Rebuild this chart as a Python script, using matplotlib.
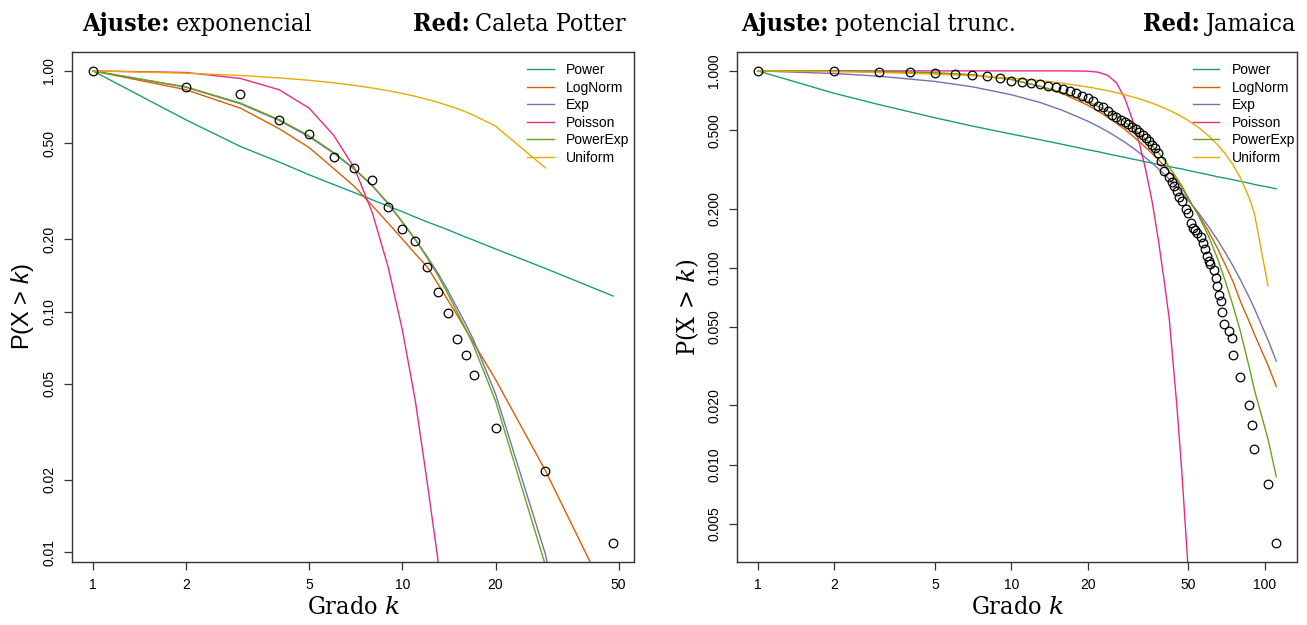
import numpy as np
import matplotlib
matplotlib.use("Agg")
import matplotlib.pyplot as plt

nan = float("nan")

# ---------------- Left panel: Caleta Potter (fit: exponencial) ----------------
cp_k = [1, 2, 3, 4, 5, 6, 7, 8, 9, 10, 11, 12, 13, 14, 15, 16, 17, 20, 29, 48]
cp_p = [1.0, 0.855, 0.803, 0.626, 0.549, 0.438, 0.396, 0.352, 0.273, 0.220,
        0.197, 0.153, 0.121, 0.0988, 0.0770, 0.0657, 0.0546, 0.0328, 0.0218, 0.0109]
cp_power = [1.0, 0.626, 0.485, 0.418, 0.370, 0.337, 0.312, 0.291, 0.274, 0.260,
            0.247, 0.236, 0.227, 0.219, 0.211, 0.204, 0.198, 0.182, 0.151, 0.116]
cp_lognorm = [1.0, 0.835, 0.70, 0.575, 0.48, 0.393, 0.331, 0.275, 0.233, 0.200,
              0.174, 0.154, 0.131, 0.112, 0.097, 0.0843, 0.074, 0.0522, 0.0218, 0.0058]
cp_exp = [1.0, 0.855, 0.73, 0.622, 0.532, 0.455, 0.39, 0.333, 0.28, 0.235,
          0.2, 0.17, 0.145, 0.123, 0.104, 0.089, 0.076, 0.0455, 0.0098, 0.0004]
cp_poisson = [1.0, 0.985, 0.93, 0.835, 0.70, 0.54, 0.395, 0.257, 0.153, 0.084,
              0.043, 0.020, 0.0095, 0.0037, 0.0013, 4e-4, 1.2e-4, 1e-6, 1e-14, 1e-30]
cp_powerexp = [1.0, 0.858, 0.735, 0.627, 0.537, 0.458, 0.392, 0.334, 0.282, 0.236,
               0.199, 0.168, 0.142, 0.119, 0.100, 0.085, 0.072, 0.0425, 0.0088, 1e-5]
cp_uniform = [1.0, 0.978, 0.957, 0.935, 0.914, 0.892, 0.870, 0.849, 0.827, 0.806,
              0.784, 0.762, 0.741, 0.719, 0.698, 0.676, 0.654, 0.590, 0.395, nan]

# ---------------- Right panel: Jamaica (fit: potencial trunc.) ----------------
ja_k = [1, 2, 3, 4, 5, 6, 7, 8, 9, 10, 11, 12, 13, 14, 15, 16, 17, 18, 19, 20,
        21, 22, 23, 24, 25, 26, 27, 28, 29, 30, 31, 32, 33, 34, 35, 36, 37, 38, 39, 40,
        42, 43, 44, 45, 46, 47, 49, 50, 51, 52, 53, 54, 56, 57, 58, 59, 60, 61, 63, 64,
        65, 66, 67, 68, 69, 72, 74, 75, 80, 87, 89, 91, 103, 111]
ja_p = [1.0, 0.996, 0.99, 0.985, 0.977, 0.962, 0.958, 0.947, 0.918, 0.89,
        0.88, 0.87, 0.857, 0.839, 0.825, 0.808, 0.79, 0.77, 0.748, 0.725,
        0.70, 0.667, 0.652, 0.622, 0.598, 0.58, 0.565, 0.55, 0.54, 0.52,
        0.505, 0.49, 0.474, 0.455, 0.44, 0.42, 0.405, 0.385, 0.35, 0.311,
        0.288, 0.273, 0.259, 0.245, 0.228, 0.218, 0.20, 0.19, 0.169, 0.16,
        0.155, 0.15, 0.143, 0.134, 0.124, 0.1145, 0.108, 0.105, 0.097, 0.089,
        0.081, 0.073, 0.068, 0.060, 0.052, 0.048, 0.044, 0.036, 0.028, 0.020,
        0.016, 0.012, 0.008, 0.004]

ja_kfit = [1, 2, 3, 5, 7, 10, 13, 16, 20, 22, 24, 26, 28, 30, 32, 34, 36, 38, 40, 42,
           45, 47, 50, 55, 60, 65, 70, 75, 80, 87, 91, 103, 111]
ja_power = [1.0, 0.77, 0.675, 0.578, 0.525, 0.478, 0.447, 0.423, 0.398, 0.389,
            0.379, 0.371, 0.364, 0.357, 0.351, 0.345, 0.340, 0.335, 0.331, 0.327,
            0.321, 0.318, 0.312, 0.304, 0.297, 0.290, 0.285, 0.280, 0.275, 0.269,
            0.265, 0.257, 0.252]
ja_lognorm = [1.0, 0.997, 0.992, 0.977, 0.955, 0.905, 0.835, 0.765, 0.67, 0.625,
              0.582, 0.542, 0.505, 0.47, 0.437, 0.407, 0.38, 0.355, 0.33, 0.308,
              0.278, 0.258, 0.222, 0.185, 0.153, 0.126, 0.103, 0.085, 0.068, 0.053,
              0.046, 0.032, 0.025]
ja_exp = [1.0, 0.970, 0.940, 0.884, 0.831, 0.757, 0.691, 0.629, 0.556, 0.523,
          0.492, 0.462, 0.435, 0.409, 0.384, 0.361, 0.340, 0.319, 0.300, 0.282,
          0.257, 0.242, 0.220, 0.189, 0.162, 0.139, 0.119, 0.102, 0.0874, 0.0704,
          0.0622, 0.0430, 0.0336]
ja_poisson = [1.0, 1.0, 1.0, 1.0, 1.0, 1.0, 1.0, 1.0, 0.997, 0.985,
              0.95, 0.87, 0.73, 0.57, 0.43, 0.31, 0.215, 0.14, 0.088, 0.055,
              0.02, 0.0095, 0.0028, 3e-4, 2e-5, 1e-6, 3e-8, 5e-10, 6e-12, 1e-14,
              5e-16, 1e-20, 1e-23]
ja_powerexp = [1.0, 0.997, 0.992, 0.977, 0.955, 0.905, 0.835, 0.775, 0.70, 0.66,
               0.625, 0.59, 0.55, 0.515, 0.48, 0.45, 0.415, 0.385, 0.355, 0.325,
               0.285, 0.262, 0.226, 0.182, 0.145, 0.112, 0.085, 0.064, 0.048, 0.031,
               0.024, 0.0135, 0.0087]
ja_uniform = [1.0, 0.991, 0.982, 0.964, 0.946, 0.919, 0.892, 0.865, 0.829, 0.811,
              0.793, 0.775, 0.757, 0.739, 0.721, 0.703, 0.685, 0.667, 0.649, 0.631,
              0.604, 0.586, 0.559, 0.514, 0.468, 0.423, 0.378, 0.333, 0.288, 0.225,
              0.189, 0.081, nan]

model_names = ["Power", "LogNorm", "Exp", "Poisson", "PowerExp", "Uniform"]
model_colors = ["#1B9E77", "#D95F02", "#7570B3", "#E7298A", "#66A61E", "#E6AB02"]

left_ticks_x = [1, 2, 5, 10, 20, 50]
left_ticks_y = [1.0, 0.5, 0.2, 0.1, 0.05, 0.02, 0.01]
left_ticklabels_y = ["1.00", "0.50", "0.20", "0.10", "0.05", "0.02", "0.01"]
right_ticks_x = [1, 2, 5, 10, 20, 50, 100]
right_ticks_y = [1.0, 0.5, 0.2, 0.1, 0.05, 0.02, 0.01, 0.005]
right_ticklabels_y = ["1.000", "0.500", "0.200", "0.100", "0.050", "0.020", "0.010", "0.005"]

# ---------------- styling ----------------
W, H = 1307, 625
SANS = "Liberation Sans"
SERIF = "DejaVu Serif"
plt.rcParams["mathtext.fontset"] = "custom"
plt.rcParams["mathtext.sf"] = "Liberation Sans:italic"
plt.rcParams["mathtext.it"] = "DejaVu Serif:italic"

fig = plt.figure(figsize=(W / 100, H / 100), dpi=100)


def px_axes(x0, x1, y0, y1):
    return fig.add_axes([x0 / W, 1 - y1 / H, (x1 - x0) / W, (y1 - y0) / H])


def loglim(vals):
    v = np.asarray(vals, float)
    lo, hi = np.log10(v.min()), np.log10(v.max())
    d = 0.04 * (hi - lo)
    return 10 ** (lo - d), 10 ** (hi + d)


def draw_panel(ax, k, p, kfit, fits, xt, yt, ytl, ylabel, ylabel_kw, leg_x):
    ax.set_xscale("log")
    ax.set_yscale("log")
    for name, col, vals in zip(model_names, model_colors, fits):
        ax.plot(kfit, vals, color=col, lw=1.0, label=name, zorder=2)
    ax.plot(k, p, linestyle="none", marker="o", markersize=6.2, markerfacecolor="none",
            markeredgecolor="black", markeredgewidth=0.9, zorder=3)
    ax.set_xlim(*loglim(k))
    ax.set_ylim(*loglim(p))
    ax.minorticks_off()
    ax.set_xticks(xt)
    ax.set_xticklabels([str(t) for t in xt], fontfamily=SANS, fontsize=10)
    ax.set_yticks(yt)
    ax.set_yticklabels(ytl, fontfamily=SANS, fontsize=10, rotation=90, va="center")
    ax.tick_params(axis="both", which="both", direction="out", length=5.5, width=0.9,
                   color="#333333")
    ax.tick_params(axis="x", pad=6)
    ax.tick_params(axis="y", pad=6)
    for s in ax.spines.values():
        s.set_linewidth(1.0)
        s.set_color("#333333")
    ax.set_xlabel("Grado $k$", fontfamily=SERIF, fontstretch="condensed", fontsize=18,
                  labelpad=3)
    ax.set_ylabel(ylabel, **ylabel_kw)
    leg = ax.legend(loc="upper left", bbox_to_anchor=(leg_x, 0.978), frameon=False,
                    prop={"family": SANS, "size": 10}, handlelength=1.9,
                    handletextpad=0.9, labelspacing=0.25, borderpad=0, borderaxespad=0)
    return leg


axL = px_axes(72, 634, 52, 562)
axR = px_axes(737, 1297, 52, 562)

draw_panel(axL, cp_k, cp_p, cp_k,
           [cp_power, cp_lognorm, cp_exp, cp_poisson, cp_powerexp, cp_uniform],
           left_ticks_x, left_ticks_y, left_ticklabels_y,
           r"P(X > $\mathsf{k}$)", dict(fontfamily=SANS, fontsize=17, labelpad=4),
           0.81)
draw_panel(axR, ja_k, ja_p, ja_kfit,
           [ja_power, ja_lognorm, ja_exp, ja_poisson, ja_powerexp, ja_uniform],
           right_ticks_x, right_ticks_y, right_ticklabels_y,
           "P(X > $k$)", dict(fontfamily=SERIF, fontstretch="condensed", fontsize=18,
                              labelpad=4),
           0.814)

# ---------------- titles ----------------
renderer = fig.canvas.get_renderer()
TFS = 18


def title_left(x_px, y_px, bold, normal):
    t1 = fig.text(x_px / W, 1 - y_px / H, bold, fontfamily=SERIF, fontstretch="condensed",
                  fontweight="bold", fontsize=TFS, ha="left", va="baseline")
    bb = t1.get_window_extent(renderer)
    fig.text((bb.x1 + 6) / W, 1 - y_px / H, normal, fontfamily=SERIF,
             fontstretch="condensed", fontsize=TFS, ha="left", va="baseline")


def title_right(x_px, y_px, bold, normal):
    t2 = fig.text(x_px / W, 1 - y_px / H, normal, fontfamily=SERIF, fontstretch="condensed",
                  fontsize=TFS, ha="right", va="baseline")
    bb = t2.get_window_extent(renderer)
    fig.text((bb.x0 - 6) / W, 1 - y_px / H, bold, fontfamily=SERIF,
             fontstretch="condensed", fontweight="bold", fontsize=TFS, ha="right",
             va="baseline")


title_left(82, 31, "Ajuste:", "exponencial")
title_right(626, 31, "Red:", "Caleta Potter")
title_left(741, 31, "Ajuste:", "potencial trunc.")
title_right(1296, 31, "Red:", "Jamaica")

fig.savefig("out.png", dpi=100)
